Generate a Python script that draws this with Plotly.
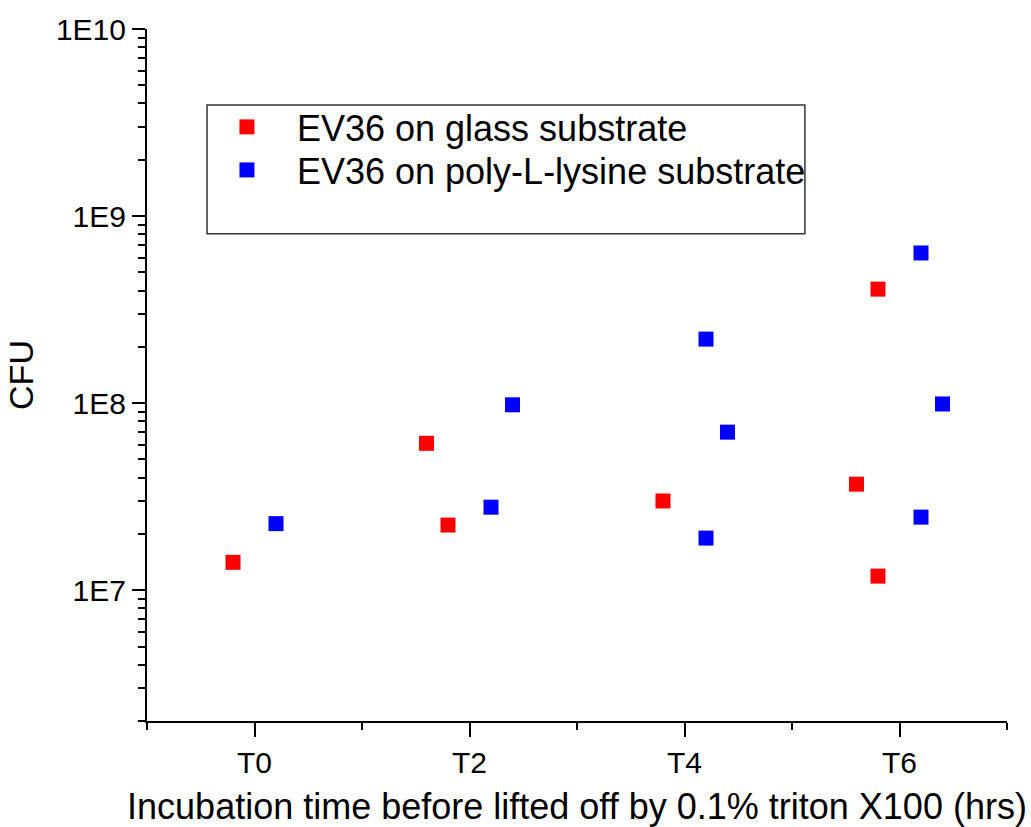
import plotly.graph_objects as go
import numpy as np

# ---- data ----
glass_x = [-0.2, 1.6, 1.8, 3.8, 5.6, 5.8, 5.8]
glass_cfu = [1.41e7, 6.1e7, 2.23e7, 3.0e7, 3.69e7, 4.07e8, 1.19e7]

pll_x = [0.2, 2.2, 2.4, 4.2, 4.2, 4.4, 6.2, 6.2, 6.4]
pll_cfu = [2.27e7, 2.78e7, 9.8e7, 2.2e8, 1.9e7, 7.0e7, 6.35e8, 2.46e7, 9.9e7]

x_tick_vals = [0, 2, 4, 6]
x_tick_text = ["T0", "T2", "T4", "T6"]
y_tick_vals = [1e7, 1e8, 1e9, 1e10]
y_tick_text = ["1E7", "1E8", "1E9", "1E10"]

series_names = ["EV36 on glass substrate", "EV36 on poly-L-lysine substrate"]

FONT = "Liberation Sans, Arial, sans-serif"

fig = go.Figure()
fig.add_trace(go.Scatter(x=glass_x, y=glass_cfu, mode="markers", name=series_names[0],
                         marker=dict(symbol="square", size=15, color="#ff0000"),
                         legend="legend"))
fig.add_trace(go.Scatter(x=pll_x, y=pll_cfu, mode="markers", name=series_names[1],
                         marker=dict(symbol="square", size=15, color="#0000ff"),
                         legend="legend2"))

minor_y = [k * 10 ** d for d in range(6, 10) for k in range(2, 10) if k * 10 ** d >= 2e6]

fig.update_xaxes(
    range=[-1, 7], showgrid=False, zeroline=False, automargin=False,
    showline=True, linecolor="black", linewidth=2,
    tickmode="array", tickvals=x_tick_vals, ticktext=x_tick_text,
    ticks="outside", ticklen=14, tickwidth=2, tickcolor="black",
    minor=dict(tickmode="linear", tick0=-1, dtick=1, ticks="outside", ticklen=7,
               tickwidth=2, tickcolor="black", showgrid=False),
    tickfont=dict(family=FONT, size=30, color="black"),
    title=dict(text="Incubation time before lifted off by 0.1% triton X100 (hrs)",
               font=dict(family=FONT, size=36, color="black"), standoff=20),
)
fig.update_yaxes(
    type="log", range=[np.log10(2e6), 10], showgrid=False, zeroline=False, automargin=False,
    showline=True, linecolor="black", linewidth=2,
    tickmode="array", tickvals=y_tick_vals, ticktext=y_tick_text,
    ticks="outside", ticklen=13, tickwidth=2, tickcolor="black",
    minor=dict(tickmode="array", tickvals=minor_y, ticks="outside", ticklen=7,
               tickwidth=2, tickcolor="black", showgrid=False),
    tickfont=dict(family=FONT, size=30, color="black"),
    title=dict(text="CFU", font=dict(family=FONT, size=34, color="black"), standoff=12),
)

legend_common = dict(xanchor="left", yanchor="middle",
                     bgcolor="rgba(0,0,0,0)", borderwidth=0,
                     font=dict(family=FONT, size=36, color="black"),
                     itemwidth=90)

fig.update_layout(
    width=1031, height=827,
    margin=dict(l=147, r=24, t=29, b=106),
    plot_bgcolor="white", paper_bgcolor="white",
    showlegend=True,
    legend=dict(x=0.0581, y=0.8584, **legend_common),
    legend2=dict(x=0.0581, y=0.7962, **legend_common),
    shapes=[dict(type="rect", xref="paper", yref="paper",
                 x0=0.0698, x1=0.765, y0=0.704, y1=0.890,
                 line=dict(color="#333333", width=1.5), fillcolor="rgba(0,0,0,0)")],
)

fig.write_html("out.html")
